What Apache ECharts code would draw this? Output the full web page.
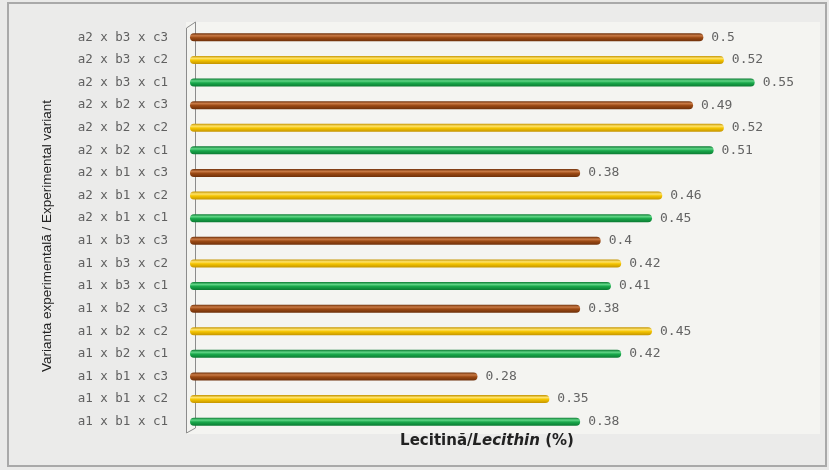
<!DOCTYPE html>
<html>
<head>
<meta charset="utf-8">
<script src="https://cdn.jsdelivr.net/npm/echarts@6/dist/echarts.min.js"></script>
<style>
  html, body { margin: 0; padding: 0; background: #ffffff; }
  #chart { width: 829px; height: 470px; }
</style>
</head>
<body>
<div id="chart"></div>
<script>
// Experimental variants, listed bottom to top as the axis draws them
const categories = [
  'a1 x b1 x c1', 'a1 x b1 x c2', 'a1 x b1 x c3',
  'a1 x b2 x c1', 'a1 x b2 x c2', 'a1 x b2 x c3',
  'a1 x b3 x c1', 'a1 x b3 x c2', 'a1 x b3 x c3',
  'a2 x b1 x c1', 'a2 x b1 x c2', 'a2 x b1 x c3',
  'a2 x b2 x c1', 'a2 x b2 x c2', 'a2 x b2 x c3',
  'a2 x b3 x c1', 'a2 x b3 x c2', 'a2 x b3 x c3'
];
// Lecithin content (%)
const lecithin = [
  0.38, 0.35, 0.28,
  0.42, 0.45, 0.38,
  0.41, 0.42, 0.4,
  0.45, 0.46, 0.38,
  0.51, 0.52, 0.49,
  0.55, 0.52, 0.5
];
// Factor c level of each variant (1, 2, 3) picks the bar colour
const cLevel = [1, 2, 3, 1, 2, 3, 1, 2, 3, 1, 2, 3, 1, 2, 3, 1, 2, 3];

// Cylinder-like shading for each c level: edge, body, highlight
const palette = {
  1: ['#0b7a32', '#19a84b', '#5fd585'],
  2: ['#c49400', '#f4c400', '#ffe36a'],
  3: ['#6e300a', '#9c4a14', '#c97a45']
};
function cylinder(level) {
  const p = palette[level];
  return {
    type: 'linear', x: 0, y: 0, x2: 0, y2: 1,
    colorStops: [
      { offset: 0, color: p[0] },
      { offset: 0.3, color: p[2] },
      { offset: 0.55, color: p[1] },
      { offset: 1, color: p[0] }
    ]
  };
}

const chart = echarts.init(document.getElementById('chart'), null, { renderer: 'canvas' });

const gridBox = { left: 190, right: 23, top: 26, bottom: 37 };

chart.setOption({
  animation: false,
  backgroundColor: '#eaeae9',
  graphic: [
    {
      type: 'rect', z: -10, silent: true,
      shape: { x: 8, y: 3, width: 818, height: 463 },
      style: { fill: '#ebebea', stroke: '#a9a9a9', lineWidth: 2 }
    },
    {
      type: 'rect', z: -9, silent: true,
      shape: { x: 186, y: 22, width: 634, height: 412 },
      style: { fill: '#f4f4f1' }
    },
    // side wall of the 3D plot frame
    {
      type: 'polyline', z: -8, silent: true,
      shape: { points: [[195.5, 22], [186.5, 28], [186.5, 433], [195.5, 428], [195.5, 22]] },
      style: { fill: null, stroke: '#8c8c8c', lineWidth: 1 }
    },
    // vertical axis title
    {
      type: 'text', silent: true,
      x: 47, y: 236, rotation: Math.PI / 2,
      style: {
        text: 'Varianta experimentală / Experimental variant',
        fontFamily: 'Liberation Sans',
        fontSize: 13.5,
        fill: '#222',
        align: 'center',
        verticalAlign: 'middle'
      }
    }
  ],
  grid: gridBox,
  xAxis: {
    type: 'value',
    min: 0,
    max: 0.6,
    axisLine: { show: false },
    axisTick: { show: false },
    axisLabel: { show: false },
    splitLine: { show: false },
    name: '{a|Lecitină/}{b|Lecithin}{a| (%)}',
    nameLocation: 'middle',
    nameGap: 1,
    nameTextStyle: {
      padding: [0, 22, 0, 0],
      rich: {
        a: { fontFamily: 'DejaVu Sans', fontSize: 15, fontWeight: 'bold', color: '#222' },
        b: { fontFamily: 'DejaVu Sans', fontSize: 15, fontWeight: 'bold', fontStyle: 'italic', color: '#222' }
      }
    }
  },
  yAxis: {
    type: 'category',
    data: categories,
    axisLine: { show: false },
    axisTick: { show: false },
    axisLabel: {
      fontFamily: 'DejaVu Sans Mono',
      fontSize: 12.5,
      color: '#606060',
      margin: 22
    }
  },
  series: [{
    type: 'bar',
    barWidth: 8,
    data: lecithin.map((v, i) => ({
      value: v,
      itemStyle: { color: cylinder(cLevel[i]), borderRadius: 4 }
    })),
    label: {
      show: true,
      position: 'right',
      distance: 8,
      fontFamily: 'DejaVu Sans Mono',
      fontSize: 13,
      color: '#646464'
    }
  }]
});
</script>
</body>
</html>
